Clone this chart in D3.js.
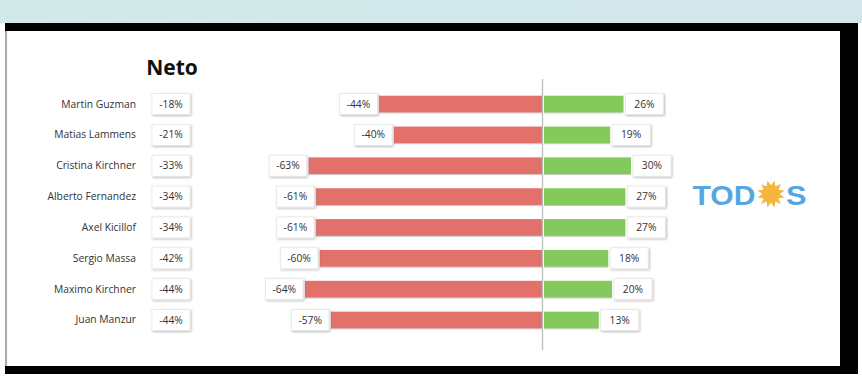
<!DOCTYPE html>
<html><head><meta charset="utf-8">
<script src="https://cdn.jsdelivr.net/npm/d3@7"></script>
<style>html,body{margin:0;padding:0;background:#fff;}svg{display:block;}</style>
</head><body>
<script>
const names = ["Martin Guzman","Matias Lammens","Cristina Kirchner","Alberto Fernandez","Axel Kicillof","Sergio Massa","Maximo Kirchner","Juan Manzur"];
const neto = [-18,-21,-33,-34,-34,-42,-44,-44];
const negative = [-44,-40,-63,-61,-61,-60,-64,-57];
const positive = [26,19,30,27,27,18,20,13];
const title = "Neto";

const W = 862, H = 384;
const svg = d3.select("body").append("svg").attr("width", W).attr("height", H);
const defs = svg.append("defs");
const f = defs.append("filter").attr("id","sh").attr("x","-20%").attr("y","-20%").attr("width","150%").attr("height","160%");
f.append("feDropShadow").attr("dx",1).attr("dy",1).attr("stdDeviation",0.9).attr("flood-color","#000").attr("flood-opacity",0.28);
const fb = defs.append("filter").attr("id","bsh").attr("x","-5%").attr("y","-20%").attr("width","110%").attr("height","160%");
fb.append("feDropShadow").attr("dx",0).attr("dy",1).attr("stdDeviation",0.6).attr("flood-color","#000").attr("flood-opacity",0.25);

// frame
const bg = defs.append("linearGradient").attr("id","tg").attr("x1",0).attr("x2",1);
bg.append("stop").attr("offset",0).attr("stop-color","#d2e9e9");
bg.append("stop").attr("offset",1).attr("stop-color","#d3e6ea");
svg.append("rect").attr("x",0).attr("y",0).attr("width",W).attr("height",23).attr("fill","url(#tg)");
svg.append("rect").attr("x",5).attr("y",23).attr("width",853).attr("height",351).attr("fill","#000");
svg.append("rect").attr("x",5).attr("y",31).attr("width",2).attr("height",335).attr("fill","#aaa");
svg.append("rect").attr("x",7).attr("y",31).attr("width",833).attr("height",335).attr("fill","#fff");

const y = d3.scaleBand().domain(names).range([88.6, 335.4]).paddingInner(0.46).paddingOuter(0.23);
const xNeg = d3.scaleLinear().domain([0,-64]).range([542.5, 305]);
const pos0 = 544;
const xPos = d3.scaleLinear().domain([0,30]).range([574, 631]);

const font = "'Open Sans', 'DejaVu Sans', sans-serif";

// title
svg.append("text").attr("x",172).attr("y",75).attr("text-anchor","middle")
  .attr("font-family",font).attr("font-weight",700).attr("font-size",21).attr("fill","#111").text(title);

const rows = svg.append("g").selectAll("g").data(names).join("g");
const cy = d => y(d) + y.bandwidth()/2;

// names
rows.append("text").attr("x",136).attr("y",d=>cy(d)+3.5).attr("text-anchor","end")
  .attr("font-family",font).attr("font-size",10.3).attr("fill","#333").text(d=>d);

function labelBox(g, x, yc, w, txt){
  g.append("rect").attr("x",x).attr("y",yc-10.5).attr("width",w).attr("height",21)
    .attr("fill","#fff").attr("stroke","#e6e6e6").attr("stroke-width",0.8).attr("filter","url(#sh)");
  g.append("text").attr("x",x+w/2).attr("y",yc+3.6).attr("text-anchor","middle")
    .attr("font-family",font).attr("font-size",10.3).attr("fill","#333").text(txt);
}

// neto boxes
rows.each(function(d,i){ labelBox(d3.select(this), 152, cy(d), 38, neto[i] + "%"); });

// center line
svg.append("line").attr("x1",xNeg(0)).attr("x2",xNeg(0)).attr("y1",79).attr("y2",350)
  .attr("stroke","#bdbdbd").attr("stroke-width",1.3);

// negative bars
rows.append("rect").attr("x",(d,i)=>xNeg(negative[i])).attr("y",d=>y(d))
  .attr("width",(d,i)=>xNeg(0)-xNeg(negative[i])).attr("height",y.bandwidth())
  .attr("fill","#e2716c").attr("filter","url(#bsh)");
// positive bars
rows.append("rect").attr("x",pos0).attr("y",d=>y(d))
  .attr("width",(d,i)=>xPos(positive[i])-pos0).attr("height",y.bandwidth())
  .attr("fill","#83c95b").attr("filter","url(#bsh)");

rows.each(function(d,i){
  const g = d3.select(this);
  labelBox(g, xNeg(negative[i]) - 39.5, cy(d), 37.5, negative[i] + "%");
  labelBox(g, xPos(positive[i]) + 2, cy(d), 38, positive[i] + "%");
});

// logo
const logo = svg.append("g");
logo.append("text").attr("x",692.5).attr("y",204.5).attr("font-family","'Liberation Sans', Arial, sans-serif")
  .attr("font-weight",700).attr("font-size",27).attr("fill","#56a7e0").attr("textLength",63).attr("lengthAdjust","spacingAndGlyphs").text("TOD");
logo.append("text").attr("x",786).attr("y",204.5).attr("font-family","'Liberation Sans', Arial, sans-serif")
  .attr("font-weight",700).attr("font-size",27).attr("fill","#56a7e0").attr("textLength",20.5).attr("lengthAdjust","spacingAndGlyphs").text("S");
const sun = logo.append("g").attr("transform","translate(771,194)");
const rays = d3.range(12);
sun.selectAll("path").data(rays).join("path")
  .attr("d", k => {
    const a = k*Math.PI/6 + Math.PI/12, da = Math.PI/10, r0 = 8, r1 = 14;
    return `M${r0*Math.cos(a-da)},${r0*Math.sin(a-da)}L${r1*Math.cos(a)},${r1*Math.sin(a)}L${r0*Math.cos(a+da)},${r0*Math.sin(a+da)}Z`;
  }).attr("fill","#f4b63f");
sun.append("circle").attr("r",9).attr("fill","#f4b63f");
</script>
</body></html>
